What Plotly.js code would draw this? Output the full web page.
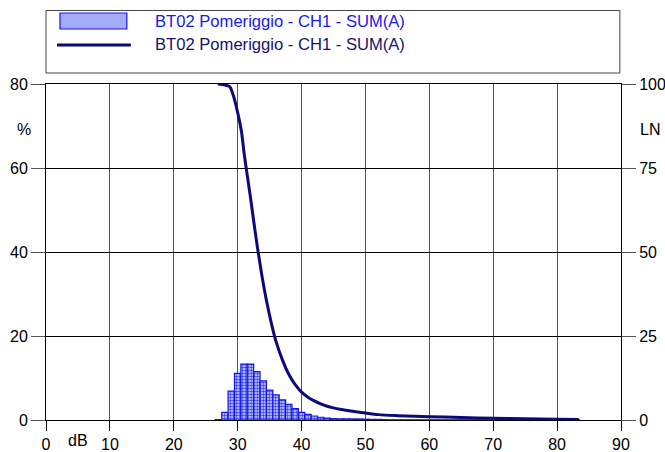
<!DOCTYPE html>
<html>
<head>
<meta charset="utf-8">
<script src="https://cdn.plot.ly/plotly-3.0.1.min.js"></script>
<style>html,body{margin:0;padding:0;background:#fff;}#chart{width:665px;height:452px;}</style>
</head>
<body>
<div id="chart"></div>
<script>
// Histogram: percentage of time at each level (dB), left axis (%)
const histLevels = [27,28,29,30,31,32,33,34,35,36,37,38,39,40,41,42,43,44,45,46,47,48,49,50,51,52,53,54,55,56,57,58,59,60,61,62,63,64,65,66,67,68,69,70,71,72,73,74,75,76,77,78,79,80,81,82,83];
const histPercent = [0.1,1.8,6.9,11.1,13.3,13.3,11.5,9.3,7.1,6.0,4.8,3.7,2.7,1.8,1.35,0.95,0.65,0.45,0.35,0.3,0.3,0.25,0.25,0.2,0.15,0.15,0.1,0.05,0.05,0.05,0.05,0.05,0.05,0.05,0.05,0.05,0.05,0.05,0.05,0.05,0.05,0.05,0.05,0.05,0.05,0.05,0.05,0.05,0.05,0.05,0.05,0.05,0.05,0.05,0.05,0.05,0.05];

// Cumulative curve LN (right axis, 0-100)
const lnLevels = [26.9,28,28.75,29.3,30,30.6,31,31.5,32,32.5,33,33.5,34,34.5,35,35.5,36,37,38,39,40,41,42,43,44,45,46,47,48,50,52,55,60,65,70,75,80,83.4];
const lnValues = [100,99.7,99.2,96.7,91.5,85.8,79.5,72.8,66.3,59.3,52.6,46.4,40.7,35.6,31.1,27.0,23.4,17.9,13.6,10.5,8.3,6.8,5.7,4.8,4.1,3.6,3.2,2.9,2.6,2.1,1.6,1.3,1.0,0.75,0.5,0.35,0.25,0.15];

const seriesName = 'BT02 Pomeriggio - CH1 - SUM(A)';
const xTicks = [0,10,20,30,40,50,60,70,80,90];
const yTicks = [0,20,40,60,80];
const y2Ticks = [0,25,50,75,100];

const FONT = 'Liberation Sans, Arial, sans-serif';

const traces = [
  {
    type: 'bar',
    x: histLevels,
    y: histPercent,
    width: 1,
    name: seriesName,
    marker: {
      color: '#c4c8ff',
      line: {color: '#1414f0', width: 1.2},
      pattern: {shape: '.', fgcolor: '#3a46ee', bgcolor: '#d8dbff', size: 3, solidity: 0.55}
    },
    yaxis: 'y',
    showlegend: false
  },
  {
    type: 'scatter',
    mode: 'lines',
    x: lnLevels,
    y: lnValues,
    name: seriesName,
    line: {color: '#0a0a7a', width: 3, shape: 'spline', smoothing: 0.8},
    yaxis: 'y2',
    showlegend: false
  }
];

const layout = {
  width: 665,
  height: 452,
  margin: {l: 46, r: 44, t: 84, b: 32, pad: 0},
  paper_bgcolor: '#ffffff',
  plot_bgcolor: '#ffffff',
  font: {family: FONT, size: 16, color: '#000'},
  showlegend: false,
  bargap: 0,
  xaxis: {
    range: [0, 90],
    tickvals: xTicks,
    ticktext: xTicks.map(String),
    ticks: 'outside',
    ticklen: 10,
    tickcolor: '#000',
    showline: true,
    linecolor: '#000',
    linewidth: 1,
    mirror: true,
    showgrid: true,
    gridcolor: '#555',
    gridwidth: 1,
    zeroline: false,
    tickfont: {family: FONT, size: 16, color: '#000'}
  },
  yaxis: {
    range: [0, 80],
    tickvals: yTicks,
    ticks: 'outside',
    ticklen: 14,
    tickcolor: '#555',
    showline: true,
    linecolor: '#000',
    linewidth: 1,
    mirror: true,
    showgrid: true,
    gridcolor: '#000',
    gridwidth: 1,
    zeroline: false,
    tickfont: {family: FONT, size: 16, color: '#000'}
  },
  yaxis2: {
    range: [0, 100],
    tickvals: y2Ticks,
    overlaying: 'y',
    side: 'right',
    ticks: 'outside',
    ticklen: 14,
    tickcolor: '#555',
    showline: true,
    linecolor: '#000',
    linewidth: 1,
    showgrid: false,
    zeroline: false,
    tickfont: {family: FONT, size: 16, color: '#000'}
  },
  shapes: [
    // legend box
    {type: 'rect', xref: 'paper', yref: 'paper', x0: 0, x1: 0.998, y0: 1.0327, y1: 1.2188,
     line: {color: '#444', width: 1}, fillcolor: 'rgba(0,0,0,0)'},
    // legend swatch: bars
    {type: 'rect', xref: 'paper', yref: 'paper', x0: 0.0243, x1: 0.1406, y0: 1.1637, y1: 1.2113,
     line: {color: '#1414f0', width: 1.2}, fillcolor: '#a4aaf6'},
    // legend swatch: line
    {type: 'line', xref: 'paper', yref: 'paper', x0: 0.0191, x1: 0.1476, y0: 1.1161, y1: 1.1161,
     line: {color: '#0a0a7a', width: 3}}
  ],
  annotations: [
    {xref: 'paper', yref: 'paper', x: 0.1858, y: 1.1875, xanchor: 'left', yanchor: 'middle',
     text: seriesName, showarrow: false, font: {family: FONT, size: 16.6, color: '#1a1aee'}},
    {xref: 'paper', yref: 'paper', x: 0.1858, y: 1.1161, xanchor: 'left', yanchor: 'middle',
     text: seriesName, showarrow: false, font: {family: FONT, size: 16.6, color: '#14146e'}},
    {xref: 'paper', yref: 'paper', x: -0.038, y: 0.866, xanchor: 'center', yanchor: 'middle',
     text: '%', showarrow: false, font: {family: FONT, size: 16, color: '#000'}},
    {xref: 'paper', yref: 'paper', x: 1.05, y: 0.866, xanchor: 'center', yanchor: 'middle',
     text: 'LN', showarrow: false, font: {family: FONT, size: 16, color: '#000'}},
    {xref: 'paper', yref: 'paper', x: 0.0556, y: -0.062, xanchor: 'center', yanchor: 'middle',
     text: 'dB', showarrow: false, font: {family: FONT, size: 16, color: '#000'}}
  ]
};

Plotly.newPlot('chart', traces, layout, {displayModeBar: false, staticPlot: true});
</script>
</body>
</html>
